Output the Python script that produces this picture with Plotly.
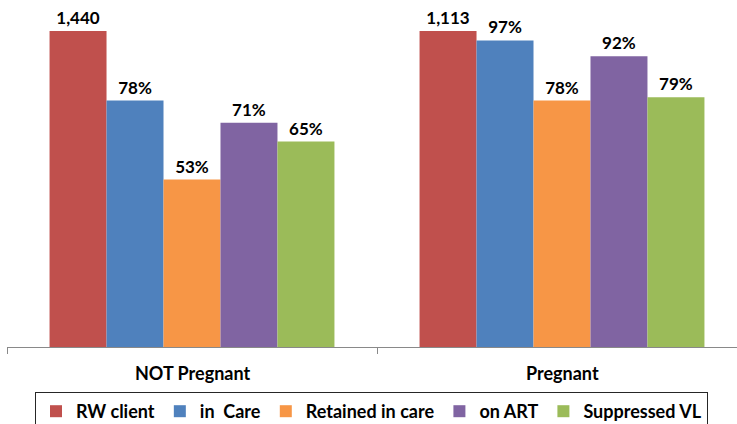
import plotly.graph_objects as go

categories = ["NOT Pregnant", "Pregnant"]
series_names = ["RW client", "in  Care", "Retained in care", "on ART", "Suppressed VL"]
# bar heights as percent of RW clients (RW client = 100%)
values = {
    "RW client": [100, 100],
    "in  Care": [78, 97],
    "Retained in care": [53, 78],
    "on ART": [71, 92],
    "Suppressed VL": [65, 79],
}
labels = {
    "RW client": ["1,440", "1,113"],
    "in  Care": ["78%", "97%"],
    "Retained in care": ["53%", "78%"],
    "on ART": ["71%", "92%"],
    "Suppressed VL": ["65%", "79%"],
}
colors = {
    "RW client": "#C0504D",
    "in  Care": "#4F81BD",
    "Retained in care": "#F79646",
    "on ART": "#8064A2",
    "Suppressed VL": "#9BBB59",
}

FONT = "Lato"
xpos = list(range(len(categories)))

fig = go.Figure()
for name in series_names:
    fig.add_trace(go.Bar(
        x=xpos, y=values[name], name=name,
        marker=dict(color=colors[name], line=dict(width=0)),
        text=labels[name], textposition="outside",
        textfont=dict(family=FONT, size=17, color="#000000", weight="bold"),
        constraintext="none", cliponaxis=False,
        hoverinfo="skip",
    ))

for i, c in enumerate(categories):
    fig.add_annotation(x=i, y=-0.075, xref="x", yref="paper", text=c,
                       showarrow=False, yanchor="middle",
                       font=dict(family=FONT, size=18, color="#000000", weight="bold"))

fig.update_layout(
    width=737, height=424,
    margin=dict(l=7, r=0, t=0, b=77, autoexpand=False),
    paper_bgcolor="white", plot_bgcolor="white",
    barmode="group", bargap=0.23, bargroupgap=0,
    xaxis=dict(range=[-0.5, -0.5 + 730 / 370], showgrid=False, zeroline=False,
               showline=True, linecolor="#898989", linewidth=1,
               tickvals=[-0.5, 0.5], ticktext=["", ""], ticks="outside",
               ticklen=6, tickcolor="#898989", tickwidth=1, showticklabels=False),
    yaxis=dict(range=[0, 347 / 3.16], visible=False),
    showlegend=True,
    legend=dict(orientation="h", x=(35 - 7) / 730, y=(347 - 392) / 347,
                xanchor="left", yanchor="top",
                bordercolor="#262626", borderwidth=1, bgcolor="white",
                font=dict(family=FONT, size=18, color="#000000", weight="bold"),
                itemwidth=30, traceorder="normal"),
)

fig.write_html("out.html",
               config={"displayModeBar": False},
               post_script="document.body.style.margin='0';document.body.style.overflow='hidden';")
